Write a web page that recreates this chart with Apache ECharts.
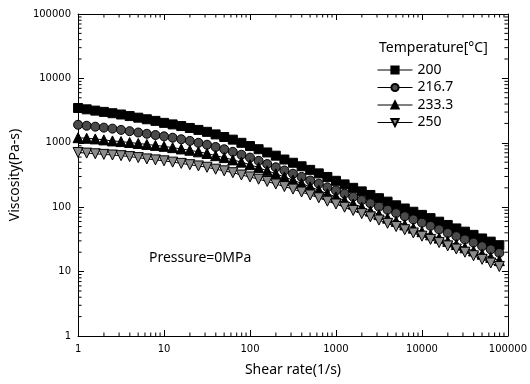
<!DOCTYPE html>
<html>
<head>
<meta charset="utf-8">
<script src="https://cdn.jsdelivr.net/npm/echarts@6/dist/echarts.min.js"></script>
<style>
  html, body { margin: 0; padding: 0; background: #fff; }
  #chart { width: 530px; height: 384px; }
</style>
</head>
<body>
<div id="chart"></div>
<script>
// shear rate (1/s), ten points per decade
const shearRate = [1, 1.259, 1.585, 1.995, 2.512, 3.162, 3.981, 5.012, 6.31, 7.943,
  10, 12.59, 15.85, 19.95, 25.12, 31.62, 39.81, 50.12, 63.1, 79.43,
  100, 125.9, 158.5, 199.5, 251.2, 316.2, 398.1, 501.2, 631, 794.3,
  1000, 1259, 1585, 1995, 2512, 3162, 3981, 5012, 6310, 7943,
  10000, 12590, 15850, 19950, 25120, 31620, 39810, 50120, 63100, 79430];

const temps = ['200', '216.7', '233.3', '250'];

const visc200 = [3470, 3310, 3160, 3020, 2880, 2750, 2600, 2455, 2320, 2190,
  2040, 1930, 1820, 1700, 1585, 1480, 1350, 1230, 1120, 1000,
  890, 795, 708, 631, 550, 490, 432, 380, 335, 295,
  257, 226, 200, 176, 155, 138, 122, 107, 95.5, 85,
  76, 67.6, 59.6, 53, 46.8, 41.7, 37.2, 32.7, 29.2, 25.7];

const visc216 = [1905, 1840, 1780, 1720, 1660, 1585, 1515, 1445, 1380, 1320,
  1260, 1200, 1135, 1070, 1000, 933, 861, 794, 724, 653,
  589, 525, 468, 417, 372, 331, 295, 260, 232, 204,
  182, 162, 145, 129, 115, 102, 91, 81, 72.4, 64.6,
  57.5, 51.3, 45.2, 39.8, 35.5, 31.6, 28.2, 24.8, 22.1, 19.5];

const visc233 = [1200, 1175, 1150, 1110, 1070, 1045, 1010, 977, 944, 912,
  881, 841, 803, 767, 724, 684, 631, 589, 543, 501,
  457, 412, 367, 331, 295, 263, 234, 207, 184, 162,
  145, 127, 112, 100, 87, 76.7, 67.6, 60.3, 53.1, 47.3,
  41.7, 37.2, 33.1, 29.5, 26.3, 23.4, 20.9, 18.6, 16.6, 14.8];

const visc250 = [708, 692, 676, 661, 646, 631, 610, 589, 562, 543,
  525, 501, 479, 457, 437, 417, 389, 367, 343, 316,
  295, 272, 251, 229, 209, 191, 172, 155, 140, 124,
  112, 100, 89, 79.4, 70.8, 63.1, 56.2, 50.1, 44.7, 39.8,
  35.5, 31.6, 28.2, 25.1, 22.4, 20, 17.6, 15.5, 13.6, 12];

const decades = [1, 10, 100, 1000, 10000];

const chart = echarts.init(document.getElementById('chart'));

// minor tick positions 2..9 within each decade, for both axes
const minorTicks = [];
decades.forEach(function (d) {
  for (let m = 2; m <= 9; m++) {
    minorTicks.push([d * m, 1, 0]);
    minorTicks.push([1, d * m, 1]);
  }
});

function pairs(ys) {
  return shearRate.map(function (x, i) { return [x, ys[i]]; });
}

const fmt = function (v) { return String(Math.round(v)); };

function lineSeries(name, ys, symbol, size, fill) {
  return {
    name: name,
    type: 'line',
    data: pairs(ys),
    symbol: symbol,
    symbolSize: size,
    showAllSymbol: true,
    lineStyle: { color: '#000', width: 1 },
    itemStyle: { color: fill, borderColor: '#000', borderWidth: 1 },
    emphasis: { disabled: true },
    z: 3
  };
}

const titleFont = { fontFamily: 'Noto Sans', fontSize: 14, fontWeight: 'normal', color: '#000' };

const option = {
  animation: false,
  textStyle: { fontFamily: 'DejaVu Sans' },
  grid: { left: 75, right: 20, top: 14, bottom: 48 },
  title: [{
    text: 'Temperature[°C]',
    left: 374, top: 36,
    textStyle: titleFont
  }, {
    text: 'Pressure=0MPa',
    left: 144, top: 246,
    textStyle: titleFont
  }],
  legend: {
    orient: 'vertical',
    left: 372, top: 58,
    itemWidth: 35, itemHeight: 9, itemGap: 3.5,
    data: temps,
    lineStyle: { width: 1, color: '#000' },
    textStyle: { fontFamily: 'Noto Sans', fontSize: 14, lineHeight: 14, color: '#000' }
  },
  xAxis: [{
    type: 'log', logBase: 10, min: 1, max: 100000,
    name: 'Shear rate(1/s)', nameLocation: 'middle', nameGap: 27,
    nameTextStyle: { fontFamily: 'Noto Sans', fontSize: 14, color: '#000' },
    axisLine: { lineStyle: { color: '#000', width: 1 } },
    axisTick: { inside: true, length: 6, lineStyle: { color: '#000' } },
    axisLabel: { formatter: fmt, fontSize: 10, color: '#000', margin: 8 },
    splitLine: { show: false }
  }, {
    type: 'log', logBase: 10, min: 1, max: 100000, position: 'top',
    axisLine: { lineStyle: { color: '#000', width: 1 } },
    axisTick: { inside: true, length: 6, lineStyle: { color: '#000' } },
    axisLabel: { show: false },
    splitLine: { show: false }
  }],
  yAxis: [{
    type: 'log', logBase: 10, min: 1, max: 100000,
    name: 'Viscosity(Pa-s)', nameLocation: 'middle', nameGap: 50,
    nameTextStyle: { fontFamily: 'Noto Sans', fontSize: 14, color: '#000' },
    axisLine: { lineStyle: { color: '#000', width: 1 } },
    axisTick: { inside: true, length: 6, lineStyle: { color: '#000' } },
    axisLabel: { formatter: fmt, fontSize: 10, color: '#000', margin: 7 },
    splitLine: { show: false }
  }, {
    type: 'log', logBase: 10, min: 1, max: 100000, position: 'right',
    axisLine: { lineStyle: { color: '#000', width: 1 } },
    axisTick: { inside: true, length: 6, lineStyle: { color: '#000' } },
    axisLabel: { show: false },
    splitLine: { show: false }
  }],
  series: [
    lineSeries(temps[0], visc200, 'rect', 9, '#000'),
    lineSeries(temps[1], visc216, 'circle', 9, '#4a4a4a'),
    lineSeries(temps[2], visc233, 'triangle', 10, '#000'),
    lineSeries(temps[3], visc250, 'path://M0,0 L10,0 L5,9 Z', 10, '#8c8c8c'),
    {
      type: 'custom',
      silent: true,
      clip: false,
      data: minorTicks,
      renderItem: function (params, api) {
        const kind = api.value(2);
        const len = 3.5;
        if (kind === 0) {
          const x = api.value(0);
          const b = api.coord([x, 1]);
          const t = api.coord([x, 100000]);
          return { type: 'group', children: [
            { type: 'line', shape: { x1: b[0], y1: b[1], x2: b[0], y2: b[1] - len }, style: { stroke: '#000', lineWidth: 1 } },
            { type: 'line', shape: { x1: t[0], y1: t[1], x2: t[0], y2: t[1] + len }, style: { stroke: '#000', lineWidth: 1 } }
          ] };
        }
        const y = api.value(1);
        const l = api.coord([1, y]);
        const r = api.coord([100000, y]);
        return { type: 'group', children: [
          { type: 'line', shape: { x1: l[0], y1: l[1], x2: l[0] + len, y2: l[1] }, style: { stroke: '#000', lineWidth: 1 } },
          { type: 'line', shape: { x1: r[0], y1: r[1], x2: r[0] - len, y2: r[1] }, style: { stroke: '#000', lineWidth: 1 } }
        ] };
      }
    }
  ]
};

chart.setOption(option);
</script>
</body>
</html>
